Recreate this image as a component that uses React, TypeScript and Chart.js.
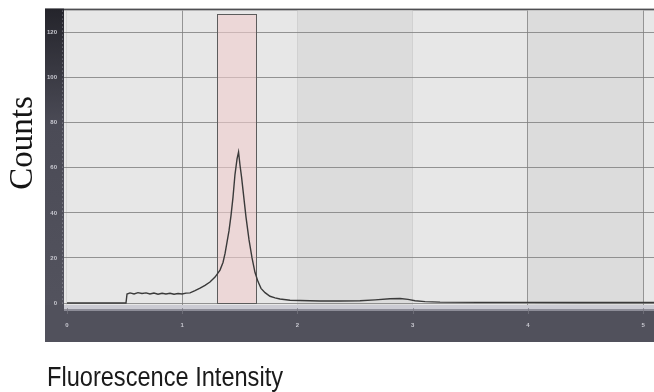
import React, { useEffect, useRef } from 'react';
import { Chart, registerables } from 'chart.js';

Chart.register(...registerables);

// Histogram trace (x in decades of fluorescence, y in counts)
const fluorescence = [
  0, 0.512, 0.521, 0.547, 0.582, 0.616, 0.651, 0.686, 0.72, 0.755, 0.79, 0.825, 0.859, 0.894,
  0.929, 0.964, 0.998, 1.033, 1.068, 1.111, 1.155, 1.198, 1.241, 1.285, 1.328, 1.354, 1.372,
  1.389, 1.406, 1.424, 1.441, 1.458, 1.476, 1.489, 1.502, 1.515, 1.528, 1.554, 1.58, 1.606,
  1.632, 1.658, 1.684, 1.719, 1.762, 1.806, 1.849, 1.936, 2.023, 2.196, 2.37, 2.543, 2.674,
  2.804, 2.891, 2.96, 3.021, 3.108, 3.238, 3.585, 4.019, 4.453, 4.8, 5.095,
];
const counts = [
  0, 0, 4.0, 4.5, 4.0, 4.6, 4.2, 4.5, 4.0, 4.4, 3.9, 4.3, 4.0, 4.3,
  3.9, 4.2, 4.0, 4.4, 4.5, 5.5, 6.6, 7.8, 9.3, 11.5, 14.6, 18, 22,
  27, 32, 39, 47, 57, 64, 67, 61, 56, 50, 38, 28, 20,
  13.5, 9.5, 6.5, 4.6, 3.0, 2.3, 1.8, 1.2, 1.1, 0.9, 0.9, 1.0, 1.4,
  1.9, 2.0, 1.6, 1.0, 0.6, 0.4, 0.3, 0.3, 0.2, 0.2, 0.2,
];

const yTickValues = [0, 20, 40, 60, 80, 100, 120];
const yTickLabels = ['0', '20', '40', '60', '80', '100', '120'];
const xTickValues = [0, 1, 2, 3, 4, 5];
const xTickLabels = ['0', '1', '2', '3', '4', '5'];

const gateRange = [1.3, 1.64];
const gateTop = 128.4;
const shadedBands = [
  [2, 3],
  [4, 5],
];

const yTitle = 'Counts';
const xTitle = 'Fluorescence Intensity';

const framePlugin = {
  id: 'framePlugin',
  beforeDraw(chart: any) {
    const { ctx, chartArea } = chart;
    const { left, right, top, bottom } = chartArea;
    const xs = chart.scales.x;
    const frameLeft = 45;
    const frameBottom = 342;
    ctx.save();
    // top border
    ctx.fillStyle = '#4e4e52';
    ctx.fillRect(frameLeft, top - 2, right - frameLeft, 2);
    // left dark strip
    const g = ctx.createLinearGradient(0, top - 2, 0, frameBottom);
    g.addColorStop(0, '#24242b');
    g.addColorStop(0.35, '#4b4b56');
    g.addColorStop(1, '#54545f');
    ctx.fillStyle = g;
    ctx.fillRect(frameLeft, top - 2, left - frameLeft, frameBottom - (top - 2));
    // bottom dark strip
    ctx.fillStyle = '#51515c';
    ctx.fillRect(frameLeft, bottom, right - frameLeft, frameBottom - bottom);
    ctx.fillStyle = '#cbcbd3';
    ctx.fillRect(left, bottom, right - left, 4);
    ctx.fillStyle = '#8d8d98';
    ctx.fillRect(left, bottom + 4, right - left, 2);
    // plot background
    ctx.fillStyle = '#e7e7e7';
    ctx.fillRect(left, top, right - left, bottom - top);
    ctx.fillStyle = '#dcdcdc';
    for (const [a, b] of shadedBands) {
      const x1 = xs.getPixelForValue(a);
      const x2 = Math.min(xs.getPixelForValue(b), right);
      ctx.fillRect(x1, top, x2 - x1, bottom - top);
    }
    // dotted light line on left strip edge
    ctx.strokeStyle = 'rgba(200,200,210,0.6)';
    ctx.setLineDash([1, 3]);
    ctx.beginPath();
    ctx.moveTo(left - 1.5, top);
    ctx.lineTo(left - 1.5, bottom);
    ctx.stroke();
    ctx.setLineDash([]);
    // small x ticks in the light strip
    ctx.strokeStyle = 'rgba(120,120,130,0.7)';
    for (const v of xTickValues) {
      const px = Math.round(xs.getPixelForValue(v)) + 0.5;
      ctx.beginPath();
      ctx.moveTo(px, bottom + 3);
      ctx.lineTo(px, bottom + 9);
      ctx.stroke();
    }
    ctx.restore();
  },
  beforeDatasetsDraw(chart: any) {
    const { ctx } = chart;
    const xs = chart.scales.x;
    const ys = chart.scales.y;
    const x1 = Math.round(xs.getPixelForValue(gateRange[0])) + 0.5;
    const x2 = Math.round(xs.getPixelForValue(gateRange[1])) + 0.5;
    const y1 = Math.round(ys.getPixelForValue(gateTop)) + 0.5;
    const y2 = Math.round(ys.getPixelForValue(0)) + 0.5;
    ctx.save();
    ctx.fillStyle = 'rgba(240,205,205,0.6)';
    ctx.fillRect(x1, y1, x2 - x1, y2 - y1);
    ctx.strokeStyle = '#5c5c5c';
    ctx.lineWidth = 1;
    ctx.strokeRect(x1, y1, x2 - x1, y2 - y1);
    ctx.restore();
  },
  afterDraw(chart: any) {
    const { ctx } = chart;
    ctx.save();
    ctx.fillStyle = '#151515';
    // y title
    ctx.translate(23, 143);
    ctx.rotate(-Math.PI / 2);
    ctx.font = '33px "Liberation Serif", "Times New Roman", serif';
    ctx.textAlign = 'center';
    ctx.textBaseline = 'middle';
    ctx.fillText(yTitle, 0, 0);
    ctx.restore();
    // x title
    ctx.save();
    ctx.fillStyle = '#1a1a1a';
    ctx.font = '27px "Liberation Sans", Arial, sans-serif';
    ctx.textAlign = 'left';
    ctx.textBaseline = 'alphabetic';
    const w = ctx.measureText(xTitle).width;
    ctx.translate(47, 386);
    ctx.scale(236 / w, 1);
    ctx.fillText(xTitle, 0, 0);
    ctx.restore();
  },
};

export default function App() {
  const canvasRef = useRef<HTMLCanvasElement | null>(null);

  useEffect(() => {
    const canvas = canvasRef.current;
    if (!canvas) return;
    const data = fluorescence.map((x, i) => ({ x, y: counts[i] }));
    const chart = new Chart(canvas, {
      type: 'line',
      data: {
        datasets: [
          {
            label: 'Counts',
            data,
            borderColor: '#3a3a3a',
            borderWidth: 1.4,
            pointRadius: 0,
            tension: 0,
            fill: false,
          },
        ],
      },
      options: {
        animation: false,
        responsive: false,
        devicePixelRatio: 1,
        layout: { padding: { left: 0, right: 0, top: 10, bottom: 0 } },
        plugins: {
          legend: { display: false },
          tooltip: { enabled: false },
          title: { display: false },
        },
        scales: {
          x: {
            type: 'linear',
            min: -0.026,
            max: 5.095,
            afterBuildTicks: (scale: any) => {
              scale.ticks = xTickValues.map((v) => ({ value: v }));
            },
            afterFit: (scale: any) => {
              scale.height = 87;
              scale.paddingLeft = 0;
              scale.paddingRight = 0;
            },
            ticks: {
              callback: (_v: any, i: number) => xTickLabels[i],
              color: '#c9c9d1',
              font: { size: 6, weight: 'bold' },
              padding: 0,
              maxRotation: 0,
              autoSkip: false,
            },
            grid: {
              drawTicks: true,
              tickLength: 17,
              tickColor: 'rgba(0,0,0,0)',
              color: (c: any) =>
                c.tick && (c.tick.value === 1 || c.tick.value === 4 || c.tick.value === 5)
                  ? 'rgba(120,120,120,0.75)'
                  : 'rgba(150,150,150,0.2)',
            },
            border: { display: false },
          },
          y: {
            type: 'linear',
            min: -0.886,
            max: 129.76,
            afterBuildTicks: (scale: any) => {
              scale.ticks = yTickValues.map((v) => ({ value: v }));
            },
            afterFit: (scale: any) => {
              scale.width = 64;
            },
            ticks: {
              callback: (_v: any, i: number) => yTickLabels[i],
              color: '#c9c9d1',
              font: { size: 6, weight: 'bold' },
              padding: 7,
              autoSkip: false,
            },
            grid: {
              drawTicks: false,
              color: 'rgba(125,125,125,0.8)',
            },
            border: { display: false },
          },
        },
      },
      plugins: [framePlugin],
    });
    return () => chart.destroy();
  }, []);

  return (
    <div style={{ position: 'fixed', left: 0, top: 0, width: 654, height: 392, background: '#fff' }}>
      <canvas ref={canvasRef} width={654} height={392} />
    </div>
  );
}
